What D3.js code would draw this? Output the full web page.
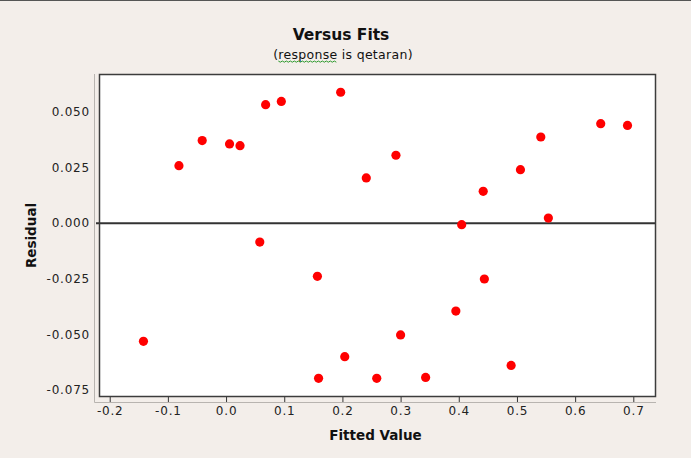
<!DOCTYPE html>
<html>
<head>
<meta charset="utf-8">
<script src="https://cdn.jsdelivr.net/npm/d3@7/dist/d3.min.js"></script>
<style>
  html, body { margin: 0; padding: 0; background: #f3eeea; }
  svg { display: block; }
</style>
</head>
<body>
<script>
// ---- data ----
const fittedValues = [-0.142, -0.081, -0.041, 0.006, 0.024, 0.058, 0.068, 0.095, 0.157, 0.159,
  0.197, 0.204, 0.241, 0.259, 0.292, 0.300, 0.343, 0.395, 0.405, 0.442,
  0.444, 0.490, 0.506, 0.541, 0.554, 0.644, 0.690];
const residuals = [-0.0531, 0.0258, 0.0371, 0.0356, 0.0348, -0.0085, 0.0532, 0.0547, -0.0239, -0.0697,
  0.0588, -0.0600, 0.0203, -0.0697, 0.0305, -0.0502, -0.0693, -0.0395, -0.0007, 0.0143,
  -0.0251, -0.0639, 0.0240, 0.0387, 0.0023, 0.0447, 0.0439];
const xTicks = [-0.2, -0.1, 0.0, 0.1, 0.2, 0.3, 0.4, 0.5, 0.6, 0.7];
const yTicks = [0.050, 0.025, 0.000, -0.025, -0.050, -0.075];
const titleText = "Versus Fits";
const subtitleText = ["(", "response", " is qetaran)"];
const xLabel = "Fitted Value";
const yLabel = "Residual";

const W = 691, H = 458;
const L = 99, R = 656, T = 74, B = 397;

const loc = d3.formatLocale({decimal: ".", thousands: ",", grouping: [3], currency: ["", ""], minus: "-"});

const svg = d3.select("body").append("svg").attr("width", W).attr("height", H);
svg.append("rect").attr("width", W).attr("height", H).attr("fill", "#f3eeea");
svg.append("line").attr("x1", 0).attr("x2", W).attr("y1", 0.5).attr("y2", 0.5).attr("stroke", "#555");

const x = d3.scaleLinear().domain([-0.2184, 0.7390]).range([L, R]);
const y = d3.scaleLinear().domain([-0.0781, 0.0670]).range([B, T]);

// outer gray axis frame (left & bottom)
svg.append("path")
  .attr("d", `M${L - 4.5},${T} V${B + 5.5} H${R}`)
  .attr("fill", "none").attr("stroke", "#b8b4b0").attr("stroke-width", 1);

// plot area
svg.append("rect").attr("x", L).attr("y", T).attr("width", R - L).attr("height", B - T)
  .attr("fill", "#ffffff");

// x axis ticks and labels
const xAxis = d3.axisBottom(x).tickValues(xTicks).tickFormat(loc.format(".1f"))
  .tickSize(5).tickPadding(4);
const gx = svg.append("g").attr("transform", `translate(0,${B})`).call(xAxis);
gx.select(".domain").remove();
gx.selectAll(".tick line").attr("stroke", "#333");
gx.selectAll(".tick text").attr("fill", "#222")
  .style("font-family", "DejaVu Sans, sans-serif").style("font-size", "12px")
  .style("letter-spacing", "0.8px");

// y axis labels
const yAxis = d3.axisLeft(y).tickValues(yTicks).tickFormat(loc.format(".3f"))
  .tickSize(0).tickPadding(9);
const gy = svg.append("g").attr("transform", `translate(${L},0)`).call(yAxis);
gy.select(".domain").remove();
gy.selectAll(".tick text").attr("fill", "#222")
  .style("font-family", "DejaVu Sans, sans-serif").style("font-size", "12px")
  .style("letter-spacing", "0.8px");

// zero reference line
svg.append("line").attr("x1", L - 3).attr("x2", R)
  .attr("y1", y(0)).attr("y2", y(0))
  .attr("stroke", "#333").attr("stroke-width", 2);

// points
svg.append("g").selectAll("circle").data(fittedValues).join("circle")
  .attr("cx", (d) => x(d))
  .attr("cy", (d, i) => y(residuals[i]))
  .attr("r", 4.6)
  .attr("fill", "#ff0000");

// plot border
svg.append("rect").attr("x", L + 0.5).attr("y", T + 0.5).attr("width", R - L - 1).attr("height", B - T - 1)
  .attr("fill", "none").attr("stroke", "#3c3c3c").attr("stroke-width", 1.5);

// titles
svg.append("text").attr("x", 341).attr("y", 40).attr("text-anchor", "middle")
  .style("font-family", "DejaVu Sans, sans-serif").style("font-size", "15.5px").style("font-weight", "bold")
  .attr("fill", "#111").text(titleText);

const sub = svg.append("text").attr("x", 343).attr("y", 59).attr("text-anchor", "middle")
  .style("font-family", "DejaVu Sans, sans-serif").style("font-size", "12.5px")
  .style("letter-spacing", "0.3px").attr("fill", "#111");
sub.selectAll("tspan").data(subtitleText).join("tspan").attr("class", (d, i) => "s" + i).text((d) => d);

// green spell-check squiggle under "response"
const tsp = sub.select(".s1").node();
const bb = tsp.getBBox();
let zz = "";
for (let xx = bb.x, k = 0; xx <= bb.x + bb.width; xx += 2, k++) {
  zz += (k === 0 ? "M" : "L") + xx + "," + (61 + (k % 2 ? 1.2 : 0));
}
svg.append("path").attr("d", zz).attr("fill", "none").attr("stroke", "#2e9a2e").attr("stroke-width", 1);

svg.append("text").attr("x", (L + R) / 2 - 2).attr("y", 440).attr("text-anchor", "middle")
  .style("font-family", "DejaVu Sans, sans-serif").style("font-size", "13.5px").style("font-weight", "bold")
  .attr("fill", "#111").text(xLabel);

svg.append("text").attr("transform", `translate(36,${(T + B) / 2}) rotate(-90)`)
  .attr("text-anchor", "middle")
  .style("font-family", "DejaVu Sans, sans-serif").style("font-size", "13.5px").style("font-weight", "bold")
  .attr("fill", "#111").text(yLabel);
</script>
</body>
</html>
